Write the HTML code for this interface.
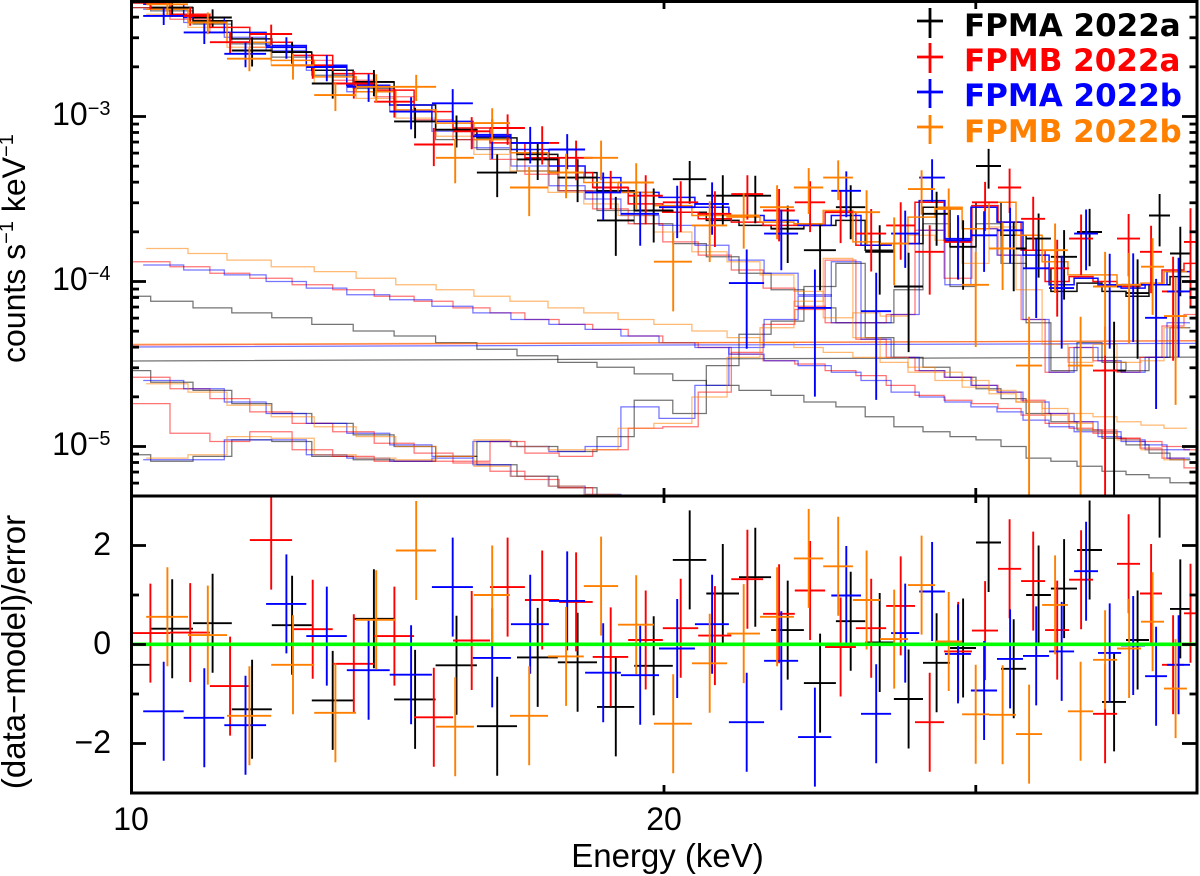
<!DOCTYPE html>
<html lang="en">
<head>
<meta charset="utf-8">
<title>Spectrum and residuals</title>
<style>
html,body{margin:0;padding:0;background:#fff;}
svg{display:block;}
text{font-family:"Liberation Sans",sans-serif;fill:#000;}
.legend-text{font-family:"DejaVu Sans",sans-serif;font-weight:bold;font-size:31px;}
</style>
</head>
<body>
<svg id="chart" xmlns="http://www.w3.org/2000/svg" width="1200" height="876" viewBox="0 0 1200 876">
<defs>
<clipPath id="clip-top"><rect x="131.5" y="1.5" width="1065.5" height="494.5"/></clipPath>
<clipPath id="clip-bottom"><rect x="131.5" y="496" width="1065.5" height="297"/></clipPath>
</defs>
<rect x="0" y="0" width="1200" height="876" fill="#fff"/>
<g id="top-marks" clip-path="url(#clip-top)"></g>
<g id="bottom-marks" clip-path="url(#clip-bottom)"></g>
<g id="axes"></g>
<text transform="translate(25,363) rotate(-90)" font-size="32">counts s<tspan font-size="20" dy="-12">−1</tspan><tspan dy="12"> keV</tspan><tspan font-size="20" dy="-12">−1</tspan></text>
<text transform="translate(25,652) rotate(-90)" font-size="33" text-anchor="middle">(data−model)/error</text>
<text x="667.5" y="867" font-size="33" text-anchor="middle">Energy (keV)</text>
<g>
<path d="M917 21H943M930 8V38" stroke="#000" stroke-width="2.8" fill="none"/>
<text class="legend-text" x="964" y="36" style="fill:#000">FPMA 2022a</text>
<path d="M917 57H943M930 43V73" stroke="#ff0000" stroke-width="2.8" fill="none"/>
<text class="legend-text" x="964" y="71" style="fill:#ff0000">FPMB 2022a</text>
<path d="M917 92H943M930 79V108" stroke="#0000ff" stroke-width="2.8" fill="none"/>
<text class="legend-text" x="964" y="106" style="fill:#0000ff">FPMA 2022b</text>
<path d="M917 127H943M930 115V144" stroke="#ff8000" stroke-width="2.8" fill="none"/>
<text class="legend-text" x="964" y="142" style="fill:#ff8000">FPMB 2022b</text>
</g>
</svg>
<script>
// ---- tick values ----
const xTickEnergies = [20, 30];
const xTickLabelEnergies = [10, 20];
const yMajorLogs = [-3, -4, -5];
const yMajorExponents = ['−3', '−4', '−5'];
const yMinorFluxes = [4e-3, 3e-3, 2e-3, 9e-4, 8e-4, 7e-4, 6e-4, 5e-4, 4e-4, 3e-4, 2e-4, 9e-5, 8e-5, 7e-5, 6e-5, 5e-5, 4e-5, 3e-5, 2e-5, 9e-6, 8e-6, 7e-6, 6e-6];
const resMajorTicks = [2, 0, -2];
const resMinorTicks = [1, -1];
const resTickLabels = ['2', '0', '−2'];

// ---- bin edges (keV) ----
const blackEdges = [9.74,10.26,10.84,11.40,12.01,12.65,13.35,14.08,14.86,15.68,16.52,17.42,18.33,19.24,20.23,21.13,22.05,22.99,23.99,25.01,25.98,26.97,28.01,29.01,30.01,31.00,32.03,33.08,34.22,35.35,36.47,37.58,38.62,39.66];
const redEdges = [9.99,10.52,11.08,11.67,12.33,13.00,13.72,14.45,15.20,15.95,16.69,17.45,18.23,19.09,19.97,20.91,21.83,22.75,23.71,24.66,25.67,26.70,27.72,28.79,29.85,30.88,31.82,32.83,33.87,34.94,36.05,37.14,38.22,39.33,40.00];
const blueEdges = [10.16,10.71,11.29,11.92,12.56,13.24,14.00,14.79,15.60,16.39,17.22,18.05,18.91,19.87,20.82,21.76,22.78,23.81,24.86,25.84,26.87,27.87,28.82,29.81,30.84,31.90,33.00,34.09,35.17,36.24,37.39,38.47,39.64];
const orangeEdges = [10.20,10.77,11.33,12.00,12.69,13.40,14.11,14.87,15.62,16.37,17.20,18.02,18.84,19.74,20.74,21.71,22.66,23.68,24.60,25.57,26.49,27.47,28.45,29.47,30.52,31.61,32.70,33.82,34.94,36.05,37.19,38.32,39.48];

// ---- measured flux: log10(counts/s/keV) ----
const blackFlux = [-2.31,-2.34,-2.40,-2.60,-2.61,-2.80,-2.79,-3.03,-3.08,-3.34,-3.26,-3.37,-3.63,-3.57,-3.38,-3.48,-3.48,-3.68,-3.81,-3.55,-3.82,-4.03,-3.59,-3.79,-3.30,-3.80,-3.74,-3.85,-3.70,-4.54,-4.07,-3.60,-3.83];
const redFlux = [-2.31,-2.39,-2.55,-2.50,-2.69,-2.80,-2.91,-3.17,-3.09,-3.07,-3.16,-3.25,-3.43,-3.48,-3.52,-3.59,-3.47,-3.57,-3.52,-3.58,-3.71,-3.66,-3.82,-3.76,-3.52,-3.43,-3.62,-3.92,-3.74,-4.54,-3.74,-3.82,-4.06,-3.76];
const blueFlux = [-2.39,-2.49,-2.62,-2.58,-2.70,-2.82,-2.97,-2.92,-3.12,-3.16,-3.20,-3.46,-3.59,-3.55,-3.53,-4.01,-3.71,-4.16,-3.45,-4.18,-3.71,-3.37,-3.75,-3.72,-3.69,-3.92,-4.04,-3.71,-4.03,-4.02,-4.22,-4.06];
const orangeFlux = [-2.32,-2.43,-2.65,-2.69,-2.87,-2.82,-2.82,-3.25,-3.04,-3.43,-3.34,-3.25,-3.40,-3.88,-3.66,-3.60,-3.55,-3.43,-3.37,-3.58,-3.77,-3.44,-3.56,-4.02,-3.80,-4.51,-3.81,-4.51,-4.03,-4.02,-3.91,-4.21];

// ---- relative flux errors (sigma / flux) ----
const blackRelErr = [.10,.09,.12,.20,.15,.19,.18,.21,.22,.29,.25,.29,.39,.36,.29,.33,.32,.38,.43,.36,.45,.60,.36,.45,.27,.45,.42,.45,.38,.98,.60,.35,.45];
const redRelErr = [.09,.13,.15,.14,.17,.19,.20,.26,.22,.21,.26,.27,.26,.33,.34,.37,.30,.35,.34,.35,.41,.38,.45,.41,.33,.30,.36,.49,.40,.85,.41,.44,.62,.60];
const blueRelErr = [.12,.15,.17,.15,.18,.19,.22,.22,.27,.25,.24,.32,.36,.35,.35,.60,.40,.71,.31,.71,.38,.29,.42,.40,.37,.50,.57,.40,.58,.55,.72,.60];
const orangeRelErr = [.14,.15,.16,.18,.20,.19,.18,.30,.23,.33,.30,.27,.31,.50,.40,.37,.36,.31,.27,.36,.44,.30,.33,.58,.44,.98,.45,.98,.62,.56,.49,.71];

// ---- residuals (data-model)/error ----
const blackResid = [-.41,.32,.43,-1.31,.39,-1.13,.52,-1.11,-.42,-1.65,-.26,-.36,-1.26,-.43,1.71,1.03,1.36,.29,-.78,.47,.04,-1.1,-.37,-.07,2.06,-.49,1.0,1.13,1.91,-1.16,.09,3.16,.72];
const redResid = [.23,.24,-.84,2.11,.31,-.39,.17,-1.47,.08,1.16,.9,.86,-.25,.09,.33,.18,1.32,.62,1.09,-.05,.33,.78,-1.57,-.14,.28,1.53,1.28,.29,1.31,-1.4,1.63,1.03,-.41,.63];
const blueResid = [-1.35,-1.48,-1.63,.82,.17,-.52,-.61,1.16,-.27,.41,.88,-.57,-.62,-.08,.41,-1.57,-.33,-1.87,.99,-1.4,.23,1.07,-.19,-.93,-.29,-.23,-.14,1.48,-.17,-.02,-.64,-.41];
const orangeResid = [.56,.19,-1.44,-.41,-1.38,.5,1.9,-1.66,1.0,-1.44,-.24,1.18,.4,-1.6,-.38,.22,.56,1.74,1.58,.9,.11,1.2,.06,-1.41,-1.42,-1.81,.8,-1.35,-.31,-.08,.46,-.89];
const residErrorBar = 1;

// ---- total model, log10 ----
const blackTotal = [-2.31,-2.34,-2.42,-2.53,-2.61,-2.72,-2.79,-2.93,-3.08,-3.13,-3.23,-3.34,-3.45,-3.57,-3.58,-3.63,-3.66,-3.68,-3.66,-3.63,-3.81,-3.77,-3.55,-3.79,-3.52,-3.72,-3.92,-4.06,-4.01,-4.06,-4.09,-4.02,-3.97];
const redTotal = [-2.31,-2.38,-2.46,-2.55,-2.63,-2.74,-2.84,-2.97,-3.07,-3.16,-3.25,-3.34,-3.43,-3.53,-3.58,-3.62,-3.64,-3.66,-3.66,-3.58,-3.78,-3.77,-3.52,-3.75,-3.54,-3.64,-3.81,-4.00,-3.97,-4.00,-4.03,-4.02,-3.93,-3.89];
const blueTotal = [-2.32,-2.40,-2.49,-2.57,-2.69,-2.81,-2.93,-3.03,-3.11,-3.20,-3.30,-3.37,-3.46,-3.49,-3.55,-3.60,-3.63,-3.66,-3.60,-3.78,-3.77,-3.51,-3.74,-3.55,-3.64,-3.84,-4.02,-3.98,-4.02,-4.04,-4.02,-3.94];
const orangeTotal = [-2.35,-2.43,-2.55,-2.66,-2.76,-2.85,-2.96,-3.04,-3.14,-3.22,-3.34,-3.40,-3.46,-3.54,-3.60,-3.61,-3.64,-3.65,-3.57,-3.76,-3.77,-3.61,-3.55,-3.68,-3.52,-3.72,-3.88,-3.96,-3.96,-4.02,-4.01,-3.94];

// ---- main steep continuum component ----
const blackMain = [-2.34,-2.36,-2.44,-2.56,-2.64,-2.75,-2.83,-2.97,-3.14,-3.20,-3.33,-3.45,-3.57,-3.65,-3.77,-3.85,-3.95,-4.05,-4.16,-4.25,-4.25,-4.05,-3.65,-4.03,-3.65,-3.89,-4.25,-4.54,-4.37,-4.49,-4.54,-4.46,-4.28];
const redMain = [-2.34,-2.41,-2.49,-2.58,-2.66,-2.78,-2.88,-3.02,-3.14,-3.26,-3.35,-3.45,-3.56,-3.65,-3.76,-3.84,-3.93,-4.04,-4.15,-4.25,-4.25,-4.20,-3.69,-3.98,-3.68,-3.84,-4.23,-4.55,-4.40,-4.48,-4.55,-4.46,-4.27,-4.20];
const blueMain = [-2.35,-2.43,-2.52,-2.60,-2.72,-2.85,-2.97,-3.09,-3.19,-3.30,-3.42,-3.50,-3.60,-3.66,-3.78,-3.87,-3.95,-4.08,-4.25,-4.25,-4.20,-3.69,-4.02,-3.68,-3.84,-4.23,-4.55,-4.40,-4.48,-4.55,-4.46,-4.25];
const orangeMain = [-2.38,-2.46,-2.58,-2.69,-2.80,-2.89,-3.01,-3.12,-3.23,-3.33,-3.46,-3.53,-3.60,-3.70,-3.82,-3.88,-3.96,-4.06,-4.22,-4.19,-4.21,-3.72,-3.75,-3.89,-3.67,-4.05,-4.38,-4.49,-4.38,-4.49,-4.48,-4.28];

// ---- upper power-law component ----
const blackPowerLaw = [-4.09,-4.12,-4.16,-4.19,-4.22,-4.26,-4.30,-4.33,-4.37,-4.41,-4.45,-4.49,-4.52,-4.56,-4.60,-4.63,-4.66,-4.69,-4.73,-4.76,-4.82,-4.88,-4.91,-4.94,-4.96,-5.00,-5.07,-5.09,-5.12,-5.15,-5.17,-5.19,-5.22];
const redPowerLaw = [-3.88,-3.91,-3.95,-3.98,-4.02,-4.05,-4.09,-4.12,-4.16,-4.19,-4.23,-4.26,-4.29,-4.33,-4.37,-4.40,-4.44,-4.48,-4.50,-4.54,-4.57,-4.63,-4.69,-4.72,-4.74,-4.77,-4.81,-4.86,-4.89,-4.92,-4.95,-4.97,-5.00,-5.02];
const bluePowerLaw = [-3.90,-3.93,-3.96,-4.00,-4.04,-4.08,-4.11,-4.15,-4.19,-4.23,-4.26,-4.29,-4.33,-4.37,-4.40,-4.44,-4.48,-4.51,-4.55,-4.60,-4.67,-4.70,-4.73,-4.76,-4.79,-4.84,-4.88,-4.91,-4.94,-4.97,-4.99,-5.02];
const orangePowerLaw = [-3.80,-3.83,-3.87,-3.91,-3.94,-3.98,-4.02,-4.05,-4.09,-4.12,-4.16,-4.19,-4.23,-4.26,-4.30,-4.34,-4.37,-4.40,-4.43,-4.46,-4.49,-4.52,-4.55,-4.60,-4.66,-4.73,-4.77,-4.80,-4.82,-4.85,-4.87,-4.89];

// ---- line-complex bump component ----
const blackBump = [-5.05,-5.09,-5.06,-4.96,-4.97,-5.06,-5.08,-5.09,-5.06,-4.97,-5.00,-5.03,-4.94,-4.72,-4.80,-4.51,-4.32,-4.24,-4.03,-3.89,-4.34,-4.46,-4.52,-4.58,-4.65,-4.71,-4.80,-4.85,-4.90,-4.95,-4.99,-5.04,-5.08];
const redBump = [-4.74,-4.92,-4.97,-4.91,-5.02,-5.06,-5.09,-5.09,-5.09,-4.97,-5.04,-5.06,-5.02,-4.89,-4.88,-4.67,-4.43,-4.26,-4.17,-3.87,-4.35,-4.46,-4.54,-4.58,-4.63,-4.67,-4.72,-4.80,-4.85,-4.90,-4.95,-5.01,-5.07,-5.13];
const blueBump = [-5.08,-5.08,-4.96,-4.96,-5.05,-5.07,-5.09,-5.07,-4.97,-5.00,-5.03,-5.00,-4.76,-4.83,-4.63,-4.40,-4.23,-4.09,-3.88,-4.35,-4.46,-4.54,-4.58,-4.63,-4.67,-4.73,-4.80,-4.85,-4.91,-4.96,-5.02,-5.07];
const orangeBump = [-5.07,-5.05,-4.94,-4.95,-5.05,-5.07,-5.08,-5.06,-4.96,-5.00,-5.02,-5.02,-4.89,-4.86,-4.70,-4.46,-4.28,-4.12,-3.86,-4.34,-4.46,-4.55,-4.60,-4.64,-4.68,-4.73,-4.81,-4.86,-4.91,-4.96,-5.02,-5.08];

// ---- lower decaying component (leaves the plot near 18 keV) ----
const blackDecay = [-4.54,-4.61,-4.66,-4.74,-4.80,-4.86,-4.93,-5.00,-5.06,-5.11,-5.18,-5.25,-5.31];
const redDecay = [-4.58,-4.65,-4.71,-4.79,-4.86,-4.91,-4.98,-5.04,-5.10,-5.15,-5.20,-5.25,-5.32];
const blueDecay = [-4.60,-4.65,-4.73,-4.80,-4.86,-4.92,-4.99,-5.06,-5.11,-5.18,-5.24,-5.29,-5.35];
const orangeDecay = [-4.62,-4.67,-4.75,-4.82,-4.88,-4.94,-5.00,-5.06,-5.12,-5.18,-5.24,-5.29,-5.35];

// ---- near-constant component ----
const flatEnergies = [10, 20, 40];
const blackFlat = [-4.482, -4.470, -4.458];
const redFlat = [-4.385, -4.372, -4.359];
const blueFlat = [-4.397, -4.385, -4.375];
const orangeFlat = [-4.380, -4.370, -4.360];

const seriesList = [
  {key:'fpma-2022a', color:'#000000', edges:blackEdges, flux:blackFlux, err:blackRelErr, resid:blackResid, total:blackTotal, comps:[blackMain, blackPowerLaw, blackBump, blackDecay], flat:blackFlat},
  {key:'fpmb-2022a', color:'#ff0000', edges:redEdges, flux:redFlux, err:redRelErr, resid:redResid, total:redTotal, comps:[redMain, redPowerLaw, redBump, redDecay], flat:redFlat},
  {key:'fpma-2022b', color:'#0000ff', edges:blueEdges, flux:blueFlux, err:blueRelErr, resid:blueResid, total:blueTotal, comps:[blueMain, bluePowerLaw, blueBump, blueDecay], flat:blueFlat},
  {key:'fpmb-2022b', color:'#ff8000', edges:orangeEdges, flux:orangeFlux, err:orangeRelErr, resid:orangeResid, total:orangeTotal, comps:[orangeMain, orangePowerLaw, orangeBump, orangeDecay], flat:orangeFlat}
];
const componentNames = ['main-continuum', 'power-law', 'line-bump', 'decay'];

// ---- axis functions ----
function xScale(energy) { return 131 + 533 * Math.log2(energy / 10); }
function yScale(logFlux) { return 116.5 + (-3 - logFlux) * 165; }
function resScale(value) { return 644.5 - 49.5 * value; }

const NS = 'http://www.w3.org/2000/svg';
function make(tag, parent, props) {
  const el = document.createElementNS(NS, tag);
  for (const k in props) el.setAttribute(k, props[k]);
  parent.appendChild(el);
  return el;
}
function stepPath(edges, levels) {
  let d = 'M' + xScale(edges[0]).toFixed(1) + ' ' + yScale(levels[0]).toFixed(1);
  for (let i = 0; i < levels.length; i++) {
    d += 'H' + xScale(edges[i + 1]).toFixed(1);
    if (i + 1 < levels.length) d += 'V' + yScale(levels[i + 1]).toFixed(1);
  }
  return d;
}

const topMarks = document.getElementById('top-marks');
const bottomMarks = document.getElementById('bottom-marks');
const axes = document.getElementById('axes');

// models first (underneath)
seriesList.forEach(function (s) {
  s.comps.forEach(function (levels, c) {
    const el = make('path', topMarks, {d: stepPath(s.edges, levels), fill: 'none', stroke: s.color, 'stroke-width': 1.25, 'stroke-opacity': 0.55});
    
    
  });
  let fd = '';
  flatEnergies.forEach(function (e, i) {
    fd += (i ? 'L' : 'M') + xScale(e).toFixed(1) + ' ' + yScale(s.flat[i]).toFixed(1);
  });
  const flatLine = make('path', topMarks, {d: fd, fill: 'none', stroke: s.color, 'stroke-width': 1.25, 'stroke-opacity': 0.55});
  
  
});
seriesList.forEach(function (s) {
  const total = make('path', topMarks, {d: stepPath(s.edges, s.total), fill: 'none', stroke: s.color, 'stroke-width': 1.5, 'stroke-opacity': 0.95});
  
  
});

// data crosses
seriesList.forEach(function (s) {
  s.flux.forEach(function (logF, i) {
    const lo = xScale(s.edges[i]);
    const hi = xScale(s.edges[i + 1]);
    const mid = xScale((s.edges[i] + s.edges[i + 1]) / 2);
    const yc = yScale(logF);
    const yUp = yScale(logF + Math.log10(1 + s.err[i]));
    const yDn = s.err[i] < 1 ? yScale(logF + Math.log10(1 - s.err[i])) : 600;
    const cross = make('path', topMarks, {
      d: 'M' + lo.toFixed(1) + ' ' + yc.toFixed(1) + 'H' + hi.toFixed(1) + 'M' + mid.toFixed(1) + ' ' + yUp.toFixed(1) + 'V' + yDn.toFixed(1),
      fill: 'none', stroke: s.color, 'stroke-width': 1.9
    });
    
    

    const ry = resScale(s.resid[i]);
    const ryUp = resScale(s.resid[i] + residErrorBar);
    const ryDn = resScale(s.resid[i] - residErrorBar);
    const res = make('path', bottomMarks, {
      d: 'M' + lo.toFixed(1) + ' ' + ry.toFixed(1) + 'H' + hi.toFixed(1) + 'M' + mid.toFixed(1) + ' ' + ryUp.toFixed(1) + 'V' + ryDn.toFixed(1),
      fill: 'none', stroke: s.color, 'stroke-width': 1.9
    });
    
    
  });
});
const zeroLine = make('line', bottomMarks, {x1: 131.5, x2: 1197, y1: resScale(0) - 0.2, y2: resScale(0) - 0.2, stroke: '#00ff00', 'stroke-width': 3.6});



// frames
[[131.5, 1.5, 1065.5, 494.5, 'spectrum-frame'], [131.5, 496, 1065.5, 297, 'residual-frame']].forEach(function (f) {
  const r = make('rect', axes, {x: f[0], y: f[1], width: f[2], height: f[3], fill: 'none', stroke: '#000', 'stroke-width': 3});
  
  
});

function tick(x1, y1, x2, y2, name) {
  const t = make('line', axes, {x1: x1, y1: y1, x2: x2, y2: y2, stroke: '#000', 'stroke-width': 2.8});
  
  
}
// x ticks on all four horizontal edges
xTickEnergies.forEach(function (e) {
  const x = xScale(e);
  tick(x, 1.5, x, 9, 'x-tick-top');
  tick(x, 496, x, 488, 'x-tick-mid-up');
  tick(x, 496, x, 503, 'x-tick-mid-down');
  tick(x, 793, x, 785, 'x-tick-bottom');
});
xTickLabelEnergies.forEach(function (e) {
  const lab = make('text', axes, {x: xScale(e), y: 830, 'font-size': 32, 'text-anchor': 'middle'});
  lab.textContent = String(e);
  
  
});
// y ticks, spectrum panel
yMajorLogs.forEach(function (v, i) {
  const y = yScale(v);
  tick(131.5, y, 146, y, 'y-major-tick-left');
  tick(1197, y, 1182, y, 'y-major-tick-right');
  const lab = make('text', axes, {x: 110.5, y: y + 8.5, 'font-size': 32, 'text-anchor': 'end'});
  const base = make('tspan', lab, {});
  base.textContent = '10';
  const exp = make('tspan', lab, {'font-size': 20, dy: -10});
  exp.textContent = yMajorExponents[i];
  
  
});
yMinorFluxes.forEach(function (f) {
  const y = yScale(Math.log10(f));
  tick(131.5, y, 139, y, 'y-minor-tick-left');
  tick(1197, y, 1189.5, y, 'y-minor-tick-right');
});
// y ticks, residual panel
resMajorTicks.forEach(function (v, i) {
  const y = resScale(v);
  tick(131.5, y, 146, y, 'residual-major-tick-left');
  tick(1197, y, 1182, y, 'residual-major-tick-right');
  const lab = make('text', axes, {x: 111, y: y + 9.5, 'font-size': 32, 'text-anchor': 'end'});
  lab.textContent = resTickLabels[i];
  
  
});
resMinorTicks.forEach(function (v) {
  const y = resScale(v);
  tick(131.5, y, 139, y, 'residual-minor-tick-left');
  tick(1197, y, 1189.5, y, 'residual-minor-tick-right');
});
</script>
</body>
</html>
